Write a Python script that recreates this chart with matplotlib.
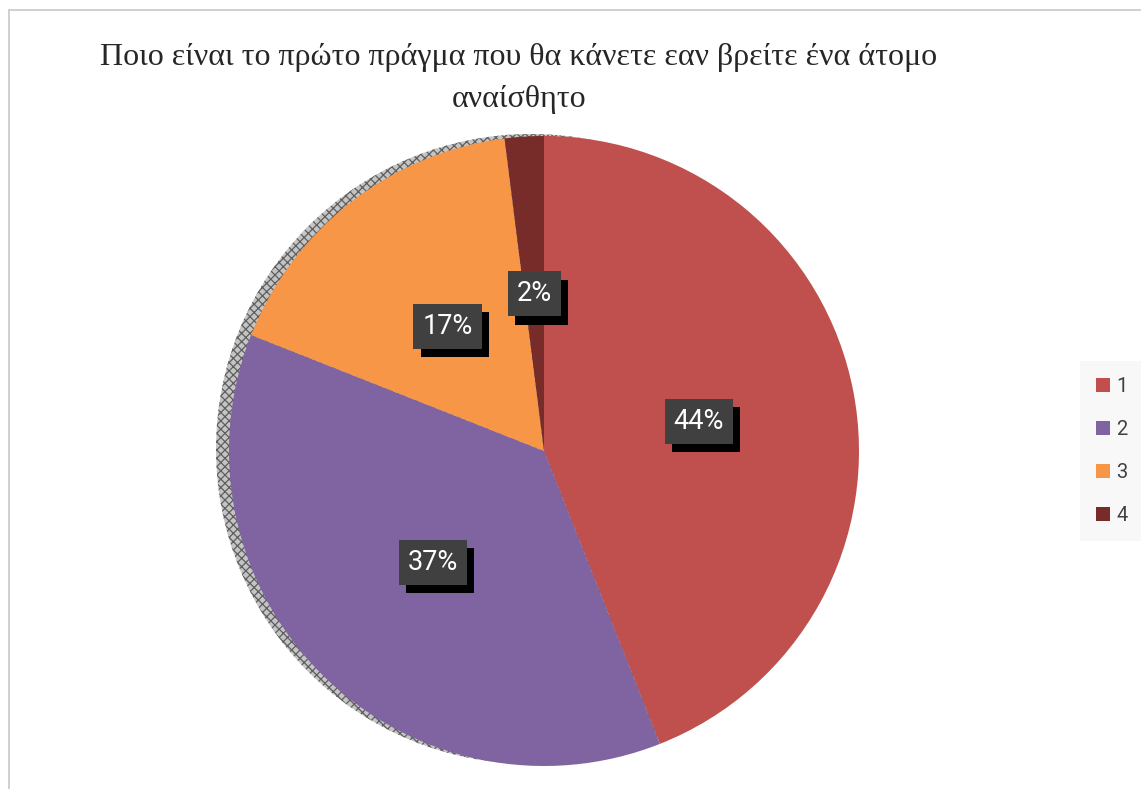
import matplotlib.pyplot as plt
from matplotlib.patches import Circle, Rectangle

# Survey answers (share of respondents, %)
categories = ['1', '2', '3', '4']
shares = [44, 37, 17, 2]
colors = ['#C0504D', '#8064A2', '#F79646', '#772C2A']
title_lines = ['Ποιο είναι το πρώτο πράγμα που θα κάνετε εαν βρείτε ένα άτομο',
               'αναίσθητο']

W, H = 1141, 789
fig = plt.figure(figsize=(W / 100, H / 100), dpi=100)
fig.patch.set_facecolor('white')

# thin outer frame of the chart area
fig.add_artist(Rectangle((9 / W, -0.05), 1.2, (H - 10) / H + 0.05,
                         transform=fig.transFigure, fill=False,
                         edgecolor='#c8c8c8', linewidth=1.2))

for i, line in enumerate(title_lines):
    fig.text(519 / W, (H - 58 - 42 * i) / H, line, ha='center', va='center',
             fontsize=23, family='Liberation Serif', color='#262626')

# pie axes: centre (544, 451) px, radius 315 px
cx, cy, r = 544, 451, 315
lim = 1.1
side = 2 * r * lim
ax = fig.add_axes([(cx - side / 2) / W, (H - cy - side / 2) / H, side / W, side / H])

# grainy drop shadow on the left side
plt.rcParams['hatch.linewidth'] = 0.9
shadow = Circle((-13 / r, 2 / r), 1.0, facecolor='#c4c4c4', edgecolor='#5e5e5e',
                hatch='xxxx', linewidth=0, zorder=0)
ax.add_patch(shadow)

wedges, _, autotexts = ax.pie(shares, colors=colors, startangle=90, counterclock=False,
                              radius=1.0, autopct='%d%%', pctdistance=0.5,
                              wedgeprops=dict(linewidth=0))
for w in wedges:
    w.set_zorder(1)
ax.set_xlim(-lim, lim)
ax.set_ylim(-lim, lim)
ax.axis('off')

for t in autotexts:
    x, y = t.get_position()
    t.set_visible(False)
    txt = t.get_text()
    # black box offset down-right acts as the label shadow
    ax.annotate(txt, (x, y), xytext=(5.5, -6), textcoords='offset points',
                ha='center', va='center', fontsize=19.5, family='Roboto', color='black',
                bbox=dict(boxstyle='square,pad=0.33', facecolor='black', edgecolor='none'),
                zorder=3)
    ax.text(x, y, txt, ha='center', va='center', fontsize=19.5, family='Roboto',
            color='white',
            bbox=dict(boxstyle='square,pad=0.33', facecolor='#404040', edgecolor='none'),
            zorder=4)

leg = fig.legend(wedges, categories, loc='center left',
                 bbox_to_anchor=(1080 / W, (H - 451) / H),
                 frameon=True, fancybox=False, facecolor='#f8f8f8', edgecolor='none',
                 framealpha=1, prop=dict(family='Roboto', size=14.5),
                 handlelength=0.7, handleheight=0.7, handletextpad=0.3,
                 labelspacing=1.2, borderpad=0.8, borderaxespad=0)
for t in leg.get_texts():
    t.set_color('#404040')

fig.savefig('out.png', dpi=100)
